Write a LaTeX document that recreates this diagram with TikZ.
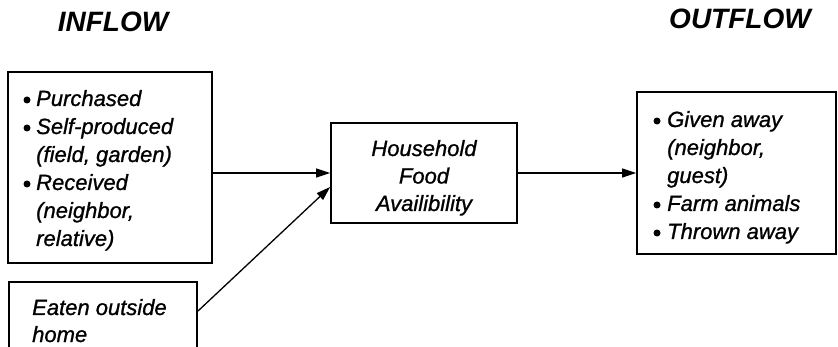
\documentclass[tikz,border=0pt]{standalone}
\usepackage{fontspec}
\setmainfont{Liberation Sans}
\newfontfamily\bodyfont{Liberation Sans}[FakeBold=1]
\usetikzlibrary{arrows.meta}
\begin{document}
\begin{tikzpicture}[x=1pt,y=-1pt,
  box/.style={draw=black,line width=1.8pt,minimum width=#1,inner sep=0pt},
  txt/.style={anchor=base west,inner sep=0pt,font=\bodyfont\fontsize{22}{28}\selectfont\itshape},
  ctxt/.style={anchor=base,inner sep=0pt,font=\bodyfont\fontsize{22}{28}\selectfont\itshape},
  dot/.style={circle,fill=black,inner sep=0pt,minimum size=7pt},
  title/.style={inner sep=0pt,font=\fontsize{28}{32}\selectfont\bfseries\itshape},
  flow/.style={line width=1.3pt,-{Triangle[length=14pt,width=9pt]}}]
\useasboundingbox (0,0) rectangle (838,347);
\clip (0,0) rectangle (838,347);
% titles
\node[title] (tin) at (113,22) {INFLOW};
\node[title] (tout) at (740,19) {OUTFLOW};
% boxes
\node[box=204pt,minimum height=191pt] (left) at (110,167.5) {};
\node[box=188pt,minimum height=80pt] (bot) at (103,322) {};
\node[box=186pt,minimum height=100pt] (mid) at (424,173) {};
\node[box=199pt,minimum height=162pt] (right) at (736.5,173) {};
% left box text
\node[dot] (b1) at (27,100) {};
\node[txt] (l1) at (36,106) {Purchased};
\node[dot] (b2) at (27,128) {};
\node[txt] (l2) at (36,134) {Self-produced};
\node[txt] (l3) at (36,162) {(field, garden)};
\node[dot] (b3) at (27,184) {};
\node[txt] (l4) at (36,190) {Received};
\node[txt] (l5) at (36,218) {(neighbor,};
\node[txt] (l6) at (36,246) {relative)};
% bottom box text
\node[txt] (e1) at (32,315) {Eaten outside};
\node[txt] (e2) at (32,342) {home};
% middle text
\node[ctxt] (m1) at (424,156) {Household};
\node[ctxt] (m2) at (424,183.5) {Food};
\node[ctxt] (m3) at (424,211) {Availibility};
% right box text
\node[dot] (rb1) at (657,121) {};
\node[txt] (r1) at (667,127) {Given away};
\node[txt] (r2) at (667,155) {(neighbor,};
\node[txt] (r3) at (667,183) {guest)};
\node[dot] (rb2) at (657,205) {};
\node[txt] (r4) at (667,211) {Farm animals};
\node[dot] (rb3) at (657,233) {};
\node[txt] (r5) at (667,239) {Thrown away};
% connectors
\draw[flow] (left.east |- mid.west) -- (mid.west);
\draw[flow] ([yshift=-30pt]bot.north east) -- ([yshift=-14pt]mid.west);
\draw[flow] (mid.east) -- (right.west);
\end{tikzpicture}
\end{document}
